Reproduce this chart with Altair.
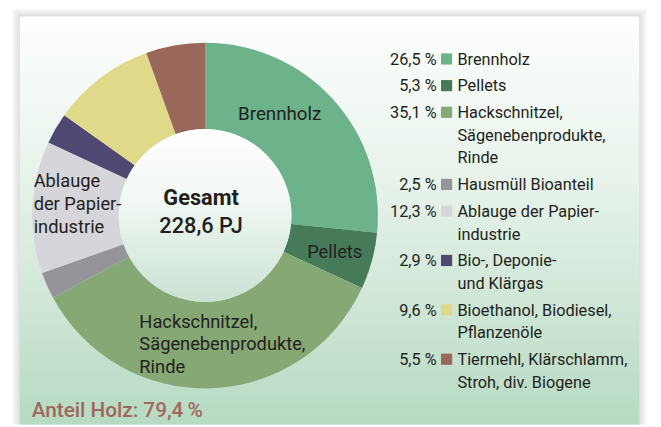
import altair as alt
import pandas as pd

# ---- data ----
categories = ["Brennholz", "Pellets", "Hackschnitzel", "Hausmüll", "Ablauge",
              "Biogas", "Bioethanol", "Tiermehl"]
shares = [26.5, 5.3, 35.1, 2.5, 12.3, 2.9, 9.6, 5.5]
share_labels = ["26,5 %", "5,3 %", "35,1 %", "2,5 %", "12,3 %", "2,9 %", "9,6 %", "5,5 %"]
legend_names = [
    "Brennholz",
    "Pellets",
    "Hackschnitzel,\nSägenebenprodukte,\nRinde",
    "Hausmüll Bioanteil",
    "Ablauge der Papier-\nindustrie",
    "Bio-, Deponie-\nund Klärgas",
    "Bioethanol, Biodiesel,\nPflanzenöle",
    "Tiermehl, Klärschlamm,\nStroh, div. Biogene",
]
slice_texts = {
    "Brennholz": "Brennholz",
    "Pellets": "Pellets",
    "Hackschnitzel": "Hackschnitzel,\nSägenebenprodukte,\nRinde",
    "Ablauge": "Ablauge\nder Papier-\nindustrie",
}
colors = ["#6cb28a", "#467a59", "#86a874", "#94949a", "#d5d5da",
          "#4f4873", "#e1d98a", "#99685a"]
center_title = "Gesamt"
center_value = "228,6 PJ"
footer = "Anteil Holz: 79,4\u2009%"

FONT = "Roboto"
TXT = "#231f20"

# ---- derived table ----
lines = [n.count("\n") + 1 for n in legend_names]
lines_before = [sum(lines[:i]) for i in range(len(lines))]
df = pd.DataFrame({
    "cat": categories,
    "idx": list(range(len(categories))),
    "share": shares,
    "pct": share_labels,
    "name": legend_names,
    "slot": [lb + i * (4 / 23) for i, lb in enumerate(lines_before)],
    "stext": [slice_texts.get(c, "") for c in categories],
})

W, H = 653, 419
CX, CY = 199.5, 207.5
color_scale = alt.Scale(domain=categories, range=colors)
one = alt.Data(values=[{}])

# ---- background panel & shadow ----
shadow_layers = []
for k in range(1, 9):
    shadow_layers.append(
        alt.Chart(one).mark_rect(fill="#000000", opacity=0.014).encode(
            x=alt.value(12 - k), x2=alt.value(639 + k),
            y=alt.value(6 - k), y2=alt.value(H)))

panel_grad = alt.Gradient(
    gradient="linear",
    stops=[alt.GradientStop(color="#fefffe", offset=0),
           alt.GradientStop(color="#e4f1e8", offset=0.45),
           alt.GradientStop(color="#b6dac2", offset=1)],
    x1=0, x2=0, y1=0, y2=1)
panel = alt.Chart(one).mark_rect(fill=panel_grad).encode(
    x=alt.value(12), x2=alt.value(639), y=alt.value(6), y2=alt.value(H))

# ---- donut ----
base = alt.Chart(df)
arcs = base.mark_arc(radius=175, innerRadius=87.5).encode(
    theta=alt.Theta("share:Q", stack=True),
    order=alt.Order("idx:Q"),
    color=alt.Color("cat:N", scale=color_scale, legend=None),
    x=alt.value(CX), y=alt.value(CY),
)

inner_grad = alt.Gradient(
    gradient="linear",
    stops=[alt.GradientStop(color="#ffffff", offset=0),
           alt.GradientStop(color="#f2f8f4", offset=0.4),
           alt.GradientStop(color="#c9e2d2", offset=1)],
    x1=0, x2=0, y1=0, y2=1)
inner = alt.Chart(one).mark_arc(radius=87.5, theta=0, theta2=6.2832, fill=inner_grad).encode(
    x=alt.value(CX), y=alt.value(CY))


def slice_label(cat, dx, dy, size):
    return base.transform_calculate(
        lab=f"datum.cat == '{cat}' ? datum.stext : ''"
    ).mark_text(radius=130, dx=dx, dy=dy, align="left", baseline="top",
                lineBreak="\n", lineHeight=23, font=FONT, fontSize=size, color=TXT).encode(
        theta=alt.Theta("share:Q", stack=True),
        order=alt.Order("idx:Q"),
        text="lab:N",
        x=alt.value(CX), y=alt.value(CY),
    )


labels = [
    slice_label("Brennholz", -63, -24.5, 19),
    slice_label("Pellets", -22, -6, 18.5),
    slice_label("Hackschnitzel", -70.6, -31.4, 18.5),
    slice_label("Ablauge", -43.7, -37.2, 18.5),
]

t1 = alt.Chart(one).mark_text(text=center_title, font=FONT, fontSize=22, fontWeight="bold",
                              color=TXT, baseline="middle", align="center").encode(
    x=alt.value(CX - 4), y=alt.value(CY - 18))
t2 = alt.Chart(one).mark_text(text=center_value, font=FONT, fontSize=22, fontWeight=500,
                              color=TXT, baseline="middle", align="center").encode(
    x=alt.value(CX - 4), y=alt.value(CY + 11))

# ---- legend ----
ysc = alt.Scale(domain=[0, 1], range=[49, 72])
yenc = alt.Y("slot:Q", scale=ysc, axis=None)
leg_pct = base.mark_text(align="right", baseline="top", dy=-7.2, font=FONT, fontSize=16.5,
                         color=TXT).encode(x=alt.value(434), y=yenc, text="pct:N")
leg_sq = base.mark_square(size=128, filled=True, opacity=1).encode(
    x=alt.value(444), y=yenc,
    color=alt.Color("cat:N", scale=color_scale, legend=None))
leg_name = base.mark_text(align="left", baseline="top", dy=-7.2, font=FONT, fontSize=16.5,
                          lineBreak="\n", lineHeight=23, color=TXT).encode(
    x=alt.value(455), y=yenc, text="name:N")

foot = alt.Chart(one).mark_text(text=footer, font=FONT, fontSize=21, fontWeight=500,
                                color="#a0675b", align="left", baseline="middle").encode(
    x=alt.value(24), y=alt.value(405))

chart = alt.layer(
    *shadow_layers, panel, arcs, inner, *labels, t1, t2, leg_pct, leg_sq, leg_name, foot
).properties(
    width=W, height=H,
    autosize=alt.AutoSizeParams(type="none"),
    padding=0,
    background="#ffffff",
).configure_view(stroke=None)

chart.save("out.html", embed_options={"renderer": "svg", "actions": False})
